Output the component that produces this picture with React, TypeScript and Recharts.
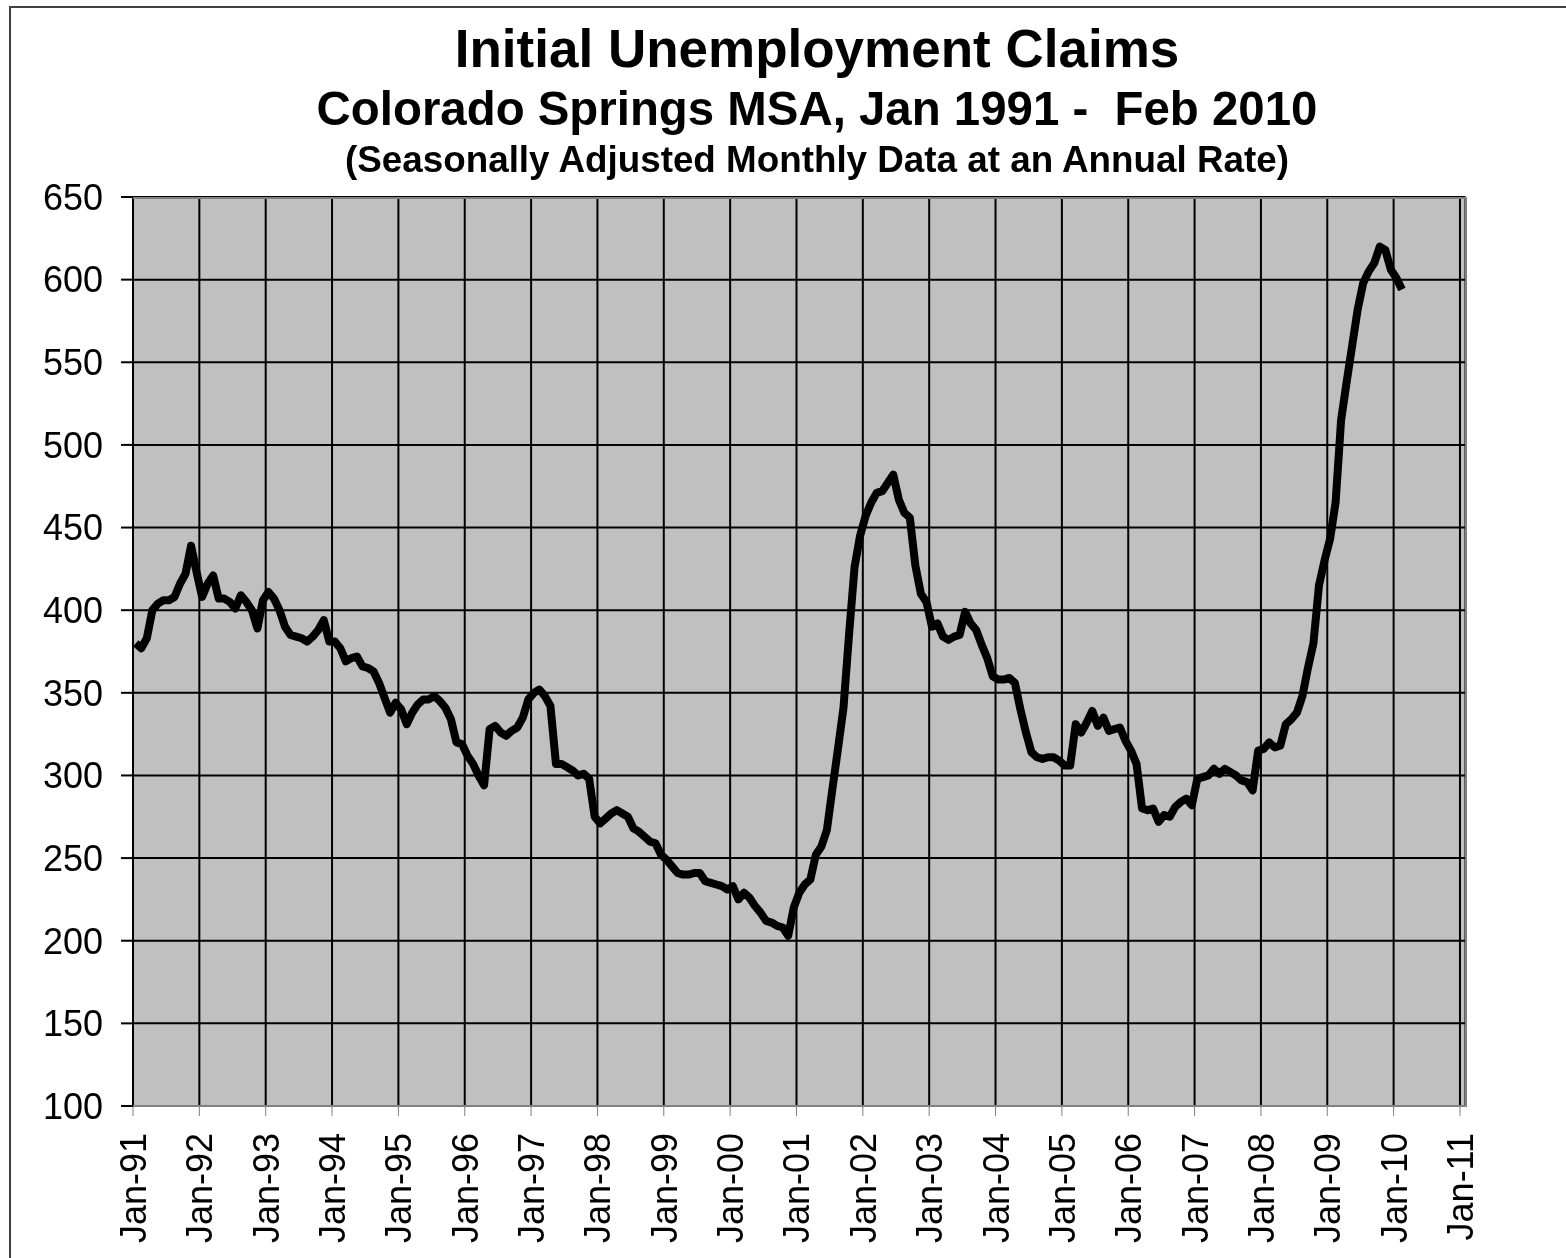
import React from 'react';
import {
  LineChart,
  Line,
  XAxis,
  YAxis,
  CartesianGrid,
} from 'recharts';

// monthly claims, Jan 1991 - Feb 2010 (seasonally adjusted, annual rate)
const claims1991to1995 = [
  380, 377, 383, 400, 404, 406, 406, 408, 416, 422, 439, 423,
  408, 416, 421, 407, 407, 405, 401, 409, 405, 400, 389, 406,
  411, 407, 400, 390, 385, 384, 383, 381, 384, 388, 394, 381,
  381, 377, 369, 371, 372, 366, 365, 363, 356, 347, 338, 344,
  340, 331, 338, 343, 346, 346, 348, 345, 341, 334, 320, 319,
];
const claims1996to2000 = [
  312, 307, 300, 294, 328, 330, 326, 324, 327, 329, 335, 346,
  350, 352, 348, 342, 307, 307, 305, 303, 300, 301, 298, 275,
  271, 274, 277, 279, 277, 275, 268, 266, 263, 260, 259, 252,
  249, 245, 241, 240, 240, 241, 241, 236, 235, 234, 233, 231,
  233, 225, 229, 226, 221, 217, 212, 211, 209, 208, 203, 220,
];
const claims2001to2005 = [
  229, 234, 237, 252, 257, 267, 292, 316, 341, 385, 426, 445,
  457, 465, 471, 472, 477, 482, 467, 459, 456, 427, 410, 405,
  390, 392, 384, 382, 384, 385, 399, 392, 388, 379, 371, 360,
  358, 358, 359, 356, 340, 326, 314, 311, 310, 311, 311, 309,
  306, 306, 331, 326, 332, 339, 330, 335, 327, 328, 329, 321,
];
const claims2006to2010 = [
  315, 307, 280, 279, 280, 272, 276, 275, 281, 284, 286, 282,
  298, 299, 300, 304, 301, 304, 302, 300, 297, 296, 291, 315,
  316, 320, 317, 318, 331, 334, 338, 348, 365, 380, 415, 430,
  443, 465, 515, 538, 560, 582, 598, 605, 610, 620, 618, 606,
  601, 594,
];

const yearLabels = [
  'Jan-91', 'Jan-92', 'Jan-93', 'Jan-94', 'Jan-95', 'Jan-96', 'Jan-97',
  'Jan-98', 'Jan-99', 'Jan-00', 'Jan-01', 'Jan-02', 'Jan-03', 'Jan-04',
  'Jan-05', 'Jan-06', 'Jan-07', 'Jan-08', 'Jan-09', 'Jan-10', 'Jan-11',
];
const yTicks = [100, 150, 200, 250, 300, 350, 400, 450, 500, 550, 600, 650];

const allClaims = [
  ...claims1991to1995,
  ...claims1996to2000,
  ...claims2001to2005,
  ...claims2006to2010,
];
// x = months since Jan 1991, each point sits mid-month
const data = allClaims.map((v, i) => ({ t: i + 0.5, v }));
const xTicks = yearLabels.map((_, i) => i * 12);

const font = '"Liberation Sans", Arial, sans-serif';

function XTick(props: any) {
  const { x, y, payload } = props;
  const label = yearLabels[Math.round(payload.value / 12)];
  return (
    <g transform={`translate(${x},${y})`}>
      <text
        x={0}
        y={0}
        dy={13}
        transform='rotate(-90)'
        textAnchor='end'
        fontSize={36}
        fontFamily={font}
        fill='#000'
      >
        {label}
      </text>
    </g>
  );
}

export default function App() {
  return (
    <div style={{ position: 'relative', width: 1550, height: 1242 }}>
      <div
        style={{
          position: 'fixed',
          left: 9,
          top: 6,
          width: 1562,
          height: 1260,
          borderTop: '2px solid #404040',
          borderLeft: '2px solid #404040',
          boxSizing: 'border-box',
          pointerEvents: 'none',
        }}
      />
      <svg
        width={1550}
        height={190}
        style={{ position: 'absolute', left: 0, top: 0 }}
      >
        <text x={809} y={59} textAnchor='middle' fontSize={53} fontWeight='bold' fontFamily={font}>
          Initial Unemployment Claims
        </text>
        <text x={809} y={117} textAnchor='middle' fontSize={47.4} fontWeight='bold' fontFamily={font} style={{ whiteSpace: 'pre' }}>
          {'Colorado Springs MSA, Jan 1991 -  Feb 2010'}
        </text>
        <text x={809} y={164} textAnchor='middle' fontSize={36.8} fontWeight='bold' fontFamily={font}>
          (Seasonally Adjusted Monthly Data at an Annual Rate)
        </text>
      </svg>
      <div style={{ position: 'absolute', left: 0, top: 0 }}>
        <LineChart
          width={1550}
          height={1242}
          data={data}
          margin={{ top: 189, right: 92.5, left: 0, bottom: 0 }}
        >
          <CartesianGrid stroke='#000' strokeWidth={2} fill='#c0c0c0' fillOpacity={1} />
          <XAxis
            type='number'
            dataKey='t'
            domain={[0, 241]}
            ticks={xTicks}
            interval={0}
            height={144}
            tickSize={10}
            tickMargin={17}
            axisLine={{ stroke: '#808080', strokeWidth: 2 }}
            tickLine={{ stroke: '#808080', strokeWidth: 1 }}
            tick={<XTick />}
          />
          <YAxis
            type='number'
            domain={[100, 650]}
            ticks={yTicks}
            interval={0}
            width={125}
            tickSize={12}
            tickMargin={18}
            axisLine={{ stroke: '#000', strokeWidth: 2 }}
            tickLine={{ stroke: '#000', strokeWidth: 2 }}
            tick={{ fontSize: 36, fontFamily: font, fill: '#000' }}
          />
          <Line
            type='linear'
            dataKey='v'
            stroke='#000'
            strokeWidth={8}
            strokeLinejoin='round'
            dot={false}
            activeDot={false}
            isAnimationActive={false}
          />
        </LineChart>
      </div>
      <div
        style={{
          position: 'absolute',
          left: 125,
          top: 189,
          width: 1333.5,
          height: 910,
          borderTop: '2px solid #808080',
          borderRight: '2px solid #808080',
          borderBottom: '2px solid #808080',
          boxSizing: 'border-box',
          pointerEvents: 'none',
        }}
      />
    </div>
  );
}
